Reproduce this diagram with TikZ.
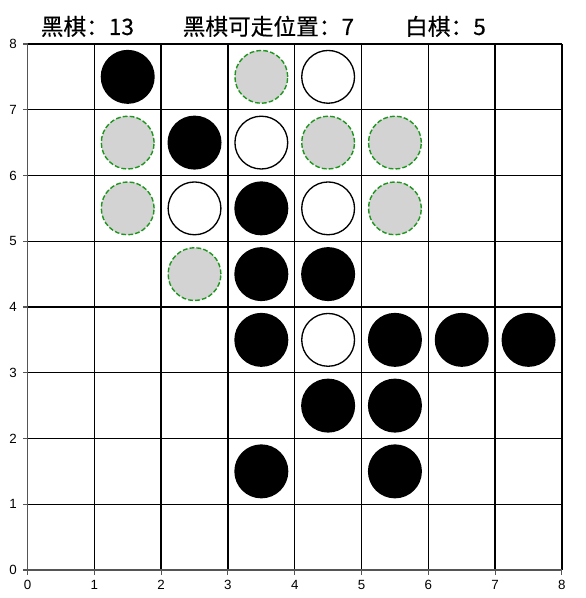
\documentclass[tikz,border=0pt]{standalone}
\usepackage{fontspec}
\newfontfamily\cjk[FakeBold=0.4]{Noto Sans CJK SC}
\newfontfamily\tickfont{Liberation Sans}
\definecolor{spine}{RGB}{85,85,85}
\definecolor{movegreen}{RGB}{30,150,30}
\definecolor{movegray}{RGB}{211,211,211}
\begin{document}
\begin{tikzpicture}[x=50.1pt,y=49.31pt,
  gridline/.style={black,line width=1pt},
  spineline/.style={spine,line width=1pt},
  tickmark/.style={spine,line width=0.8pt},
  blackstone/.style={fill=black,draw=none},
  whitestone/.style={fill=white,draw=black,line width=1pt},
  movestone/.style={fill=movegray,draw=movegreen,line width=1.05pt,dash pattern=on 3.6pt off 1.6pt},
  ticklabel/.style={font=\tickfont\fontsize{10}{12}\selectfont,inner sep=0pt},
  titletext/.style={font=\cjk\fontsize{17}{20}\selectfont,inner sep=0pt,anchor=base}]
\useasboundingbox (-0.4117,-0.4259) rectangle (8.346,8.669);
\fill[white] (-0.4117,-0.4259) rectangle (8.346,8.669);
% grid
\foreach \i in {0,...,8} {
  \draw[gridline] (\i,0) -- (\i,8);
  \draw[gridline] (0,\i) -- (8,\i);
}
\draw[spineline] (0,8) -- (0,0) -- (8,0);
% ticks and labels
\foreach \i in {0,...,8} {
  \coordinate (bx\i) at (\i,0);
  \coordinate (ly\i) at (0,\i);
  \draw[tickmark] (bx\i) -- ++(0,-3.7pt);
  \draw[tickmark] (ly\i) -- ++(-3.7pt,0);
  \node[ticklabel,anchor=base] (xl\i) at (\i,-0.304) {\i};
  \node[ticklabel,anchor=east] (yl\i) at (-0.157,\i) {\i};
}
% title
\node[titletext] (t1) at (0.897,8.137) {黑棋：13};
\node[titletext] (t2) at (3.606,8.137) {黑棋可走位置：7};
\node[titletext] (t3) at (6.257,8.137) {白棋：5};
% black stones
\foreach \x/\y in {1.5/7.5, 2.5/6.5, 3.5/5.5, 3.5/4.5, 4.5/4.5, 3.5/3.5, 5.5/3.5, 6.5/3.5, 7.5/3.5, 4.5/2.5, 5.5/2.5, 3.5/1.5, 5.5/1.5}
  \fill[blackstone] (\x,\y) circle[radius=20.25pt];
% white stones
\foreach \x/\y in {4.5/7.5, 3.5/6.5, 2.5/5.5, 4.5/5.5, 4.5/3.5}
  \draw[whitestone] (\x,\y) circle[radius=19.8pt];
% possible moves
\foreach \x/\y in {3.5/7.5, 1.5/6.5, 4.5/6.5, 5.5/6.5, 1.5/5.5, 5.5/5.5, 2.5/4.5}
  \draw[movestone] (\x,\y) circle[radius=19.8pt];
\end{tikzpicture}
\end{document}
